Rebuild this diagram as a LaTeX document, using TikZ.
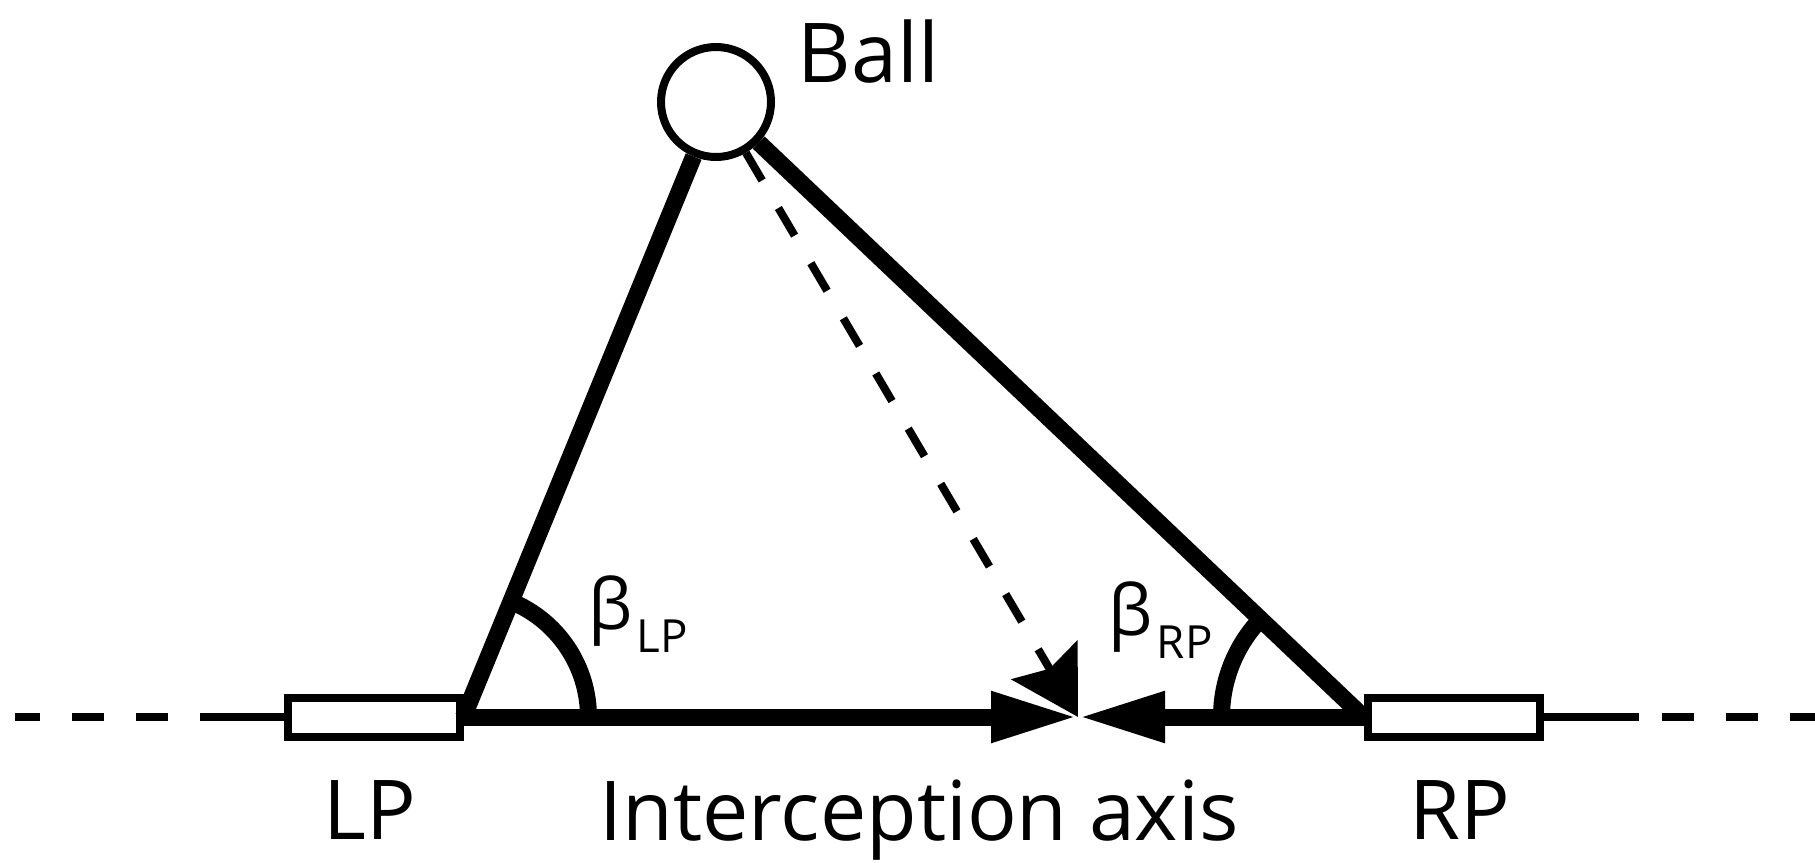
\documentclass[tikz,border=0pt]{standalone}
\usepackage{fontspec}
\setmainfont{Open Sans}
\usetikzlibrary{arrows.meta, angles, positioning}

\begin{document}
\begin{tikzpicture}[
  thickline/.style={line width=0.17cm},
  thinline/.style={line width=0.08cm},
  axisdash/.style={thinline, dash pattern=on 0.32cm off 0.32cm},
  paddle/.style={draw, thinline, rectangle, minimum width=1.72cm, minimum height=0.39cm, inner sep=0pt, fill=white},
  txt/.style={inner sep=0pt, font=\fontsize{23.5}{28}\selectfont},
  angletxt/.style={inner sep=0pt, anchor=base west, font=\fontsize{20}{24}\selectfont},
  meetarrow/.style={-{Triangle[length=0.87cm, width=0.47cm]}}
]
  \useasboundingbox (0,0) rectangle (18.15,8.62);

  % paddles and ball
  \node[paddle] (LP) at (3.735,1.45) {};
  \node[paddle] (RP) at (14.535,1.45) {};
  \node[draw, thinline, circle, minimum size=1.1cm, inner sep=0pt] (ball) at (7.16,7.60) {};

  \coordinate (lpv) at (LP.east);
  \coordinate (rpv) at (RP.west);
  \coordinate (meet) at (10.78,1.45);
  \coordinate (lend) at (2.00,1.45);
  \coordinate (ldash) at (1.68,1.45);
  \coordinate (ledge) at (0.15,1.45);
  \coordinate (rend) at (16.39,1.45);
  \coordinate (rdash) at (16.62,1.45);
  \coordinate (redge) at (18.15,1.45);

  % axis outside the paddles
  \draw[thinline] (LP.west) -- (lend);
  \draw[axisdash] (ldash) -- (ledge);
  \draw[thinline] (RP.east) -- (rend);
  \draw[axisdash] (rdash) -- (redge);

  % interception axis
  \draw[thickline, meetarrow] (lpv) -- (meet);
  \draw[thickline, meetarrow] (rpv) -- (meet);

  % lines of sight
  \draw[thickline] (lpv) -- (ball);
  \draw[thickline] (rpv) -- (ball);
  \draw[thinline, dash pattern=on 0.32cm off 0.32cm,
    -{Stealth[length=0.66cm, width=0.76cm, inset=0.1cm]}] (ball) -- (meet);

  % angles
  \pic[draw, thickline, angle radius=1.25cm] {angle=meet--lpv--ball};
  \pic[draw, thickline, angle radius=1.42cm] {angle=ball--rpv--meet};

  % labels
  \node[txt, anchor=base west] (balltxt) at (7.97,7.80) {Ball};
  \node[txt, anchor=base] (lptxt) at (3.70,0.23) {LP};
  \node[txt, anchor=base] (axistxt) at (9.19,0.22) {Interception axis};
  \node[txt, anchor=base] (rptxt) at (14.60,0.23) {RP};
  \node[angletxt] (blp) at (5.88,2.33) {β\hspace{0.04cm}\raisebox{-0.23cm}{\fontsize{13}{15}\selectfont LP}};
  \node[angletxt] (brp) at (11.08,2.27) {β\hspace{0.04cm}\raisebox{-0.23cm}{\fontsize{13}{15}\selectfont RP}};
\end{tikzpicture}
\end{document}
